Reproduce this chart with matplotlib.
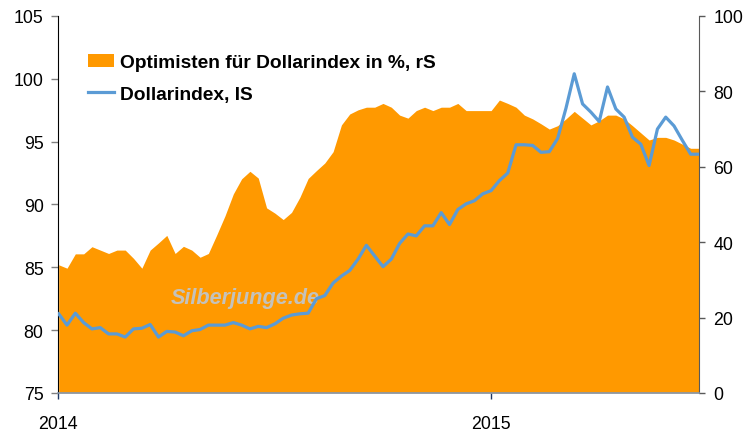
import numpy as np
import pandas as pd
import matplotlib
matplotlib.use("Agg")
import matplotlib.pyplot as plt
import matplotlib.dates as mdates
from matplotlib.patches import Patch
from matplotlib.lines import Line2D

plt.rcParams['font.family'] = ['Liberation Sans', 'DejaVu Sans']

# weekly observations
dates = pd.date_range('2014-01-02', periods=78, freq='7D')

# Dollarindex (left axis)
dollar_index = [
    81.3, 80.4, 81.35, 80.6, 80.1, 80.2, 79.7, 79.7, 79.45, 80.1,
    80.15, 80.45, 79.45, 79.9, 79.85, 79.55, 79.95, 80.05, 80.4, 80.4,
    80.4, 80.6, 80.4, 80.1, 80.3, 80.2, 80.5, 80.95, 81.2, 81.3,
    81.35, 82.5, 82.75, 83.75, 84.3, 84.75, 85.65, 86.75, 85.9, 85.05,
    85.65, 86.9, 87.65, 87.5, 88.3, 88.3, 89.35, 88.4, 89.6, 90.05,
    90.3, 90.85, 91.1, 91.9, 92.5, 94.75, 94.75, 94.7, 94.15, 94.2,
    95.25, 97.65, 100.4, 98.0, 97.35, 96.6, 99.35, 97.6, 96.95, 95.35,
    94.8, 93.1, 96.0, 96.95, 96.25, 95.1, 94.0, 94.0,
]

# Optimisten für Dollarindex in % (right axis)
optimists = [
    34.0, 33.1, 36.9, 36.9, 38.8, 37.9, 37.0, 37.9, 37.9, 35.7,
    33.1, 37.9, 39.8, 41.8, 37.0, 38.9, 37.9, 36.0, 37.0, 41.9,
    47.0, 52.8, 56.8, 58.8, 57.0, 49.1, 47.7, 46.0, 47.9, 51.9,
    56.9, 59.0, 61.0, 64.0, 71.1, 74.0, 75.1, 75.8, 75.8, 76.8,
    75.8, 73.7, 72.9, 74.9, 75.8, 74.9, 75.8, 75.8, 76.8, 74.9,
    74.9, 74.9, 74.9, 77.7, 76.8, 75.8, 73.7, 72.7, 71.4, 70.0,
    70.9, 72.7, 74.7, 72.9, 71.1, 72.2, 73.7, 73.7, 72.7, 70.9,
    69.0, 67.1, 67.8, 67.8, 67.1, 66.0, 64.9, 64.9,
]

orange = '#FF9900'
blue = '#5B9BD5'

fig = plt.figure(figsize=(7.44, 4.35), dpi=100)
ax = fig.add_axes([0.0773, 0.0943, 0.8622, 0.8667])
ax2 = ax.twinx()

ax2.fill_between(dates, 0, optimists, color=orange, linewidth=0)
ax.plot(dates, dollar_index, color=blue, linewidth=2.3, zorder=3)

# draw the line axes above the area axes
ax.set_zorder(ax2.get_zorder() + 1)
ax.patch.set_visible(False)

ax.set_xlim(pd.Timestamp('2014-01-01'), dates[-1])
ax.set_ylim(75, 105)
ax.set_yticks(np.arange(75, 106, 5))
ax2.set_ylim(0, 100)
ax2.set_yticks(np.arange(0, 101, 20))

ax.set_xticks([pd.Timestamp('2014-01-01'), pd.Timestamp('2015-01-01')])
ax.xaxis.set_major_formatter(mdates.DateFormatter('%Y'))

for a in (ax, ax2):
    a.spines['top'].set_visible(False)
ax.spines['right'].set_visible(False)
ax2.spines['left'].set_visible(False)
ax2.spines['bottom'].set_visible(False)
ax.spines['left'].set_color('black')
ax.spines['bottom'].set_color('#8497B0')
ax.spines['bottom'].set_linewidth(1.2)
ax2.spines['right'].set_color('#595959')

ax.tick_params(axis='y', labelsize=12.8, length=5, width=1, color='#808080', pad=5)
ax.tick_params(axis='x', labelsize=12.8, length=4.5, width=1, color='#1F3864', pad=11)
ax2.tick_params(axis='y', labelsize=12.8, length=4, width=1, color='#595959', pad=6.5)

ax.text(0.177, 0.252, 'Silberjunge.de', transform=ax.transAxes,
        fontsize=15.6, fontweight='bold', fontstyle='italic',
        color='#C4C2BC', ha='left', va='center', zorder=2)

handles = [Patch(facecolor=orange, edgecolor='none'),
           Line2D([0], [0], color=blue, linewidth=2.3)]
labels = ['Optimisten für Dollarindex in %, rS', 'Dollarindex, IS']
ax.legend(handles, labels, loc='upper left', bbox_to_anchor=(0.021, 0.945),
          frameon=False, prop={'size': 13.8, 'weight': 'bold'},
          handlelength=1.35, handletextpad=0.3, labelspacing=0.72)

fig.savefig('out.png', dpi=100)
